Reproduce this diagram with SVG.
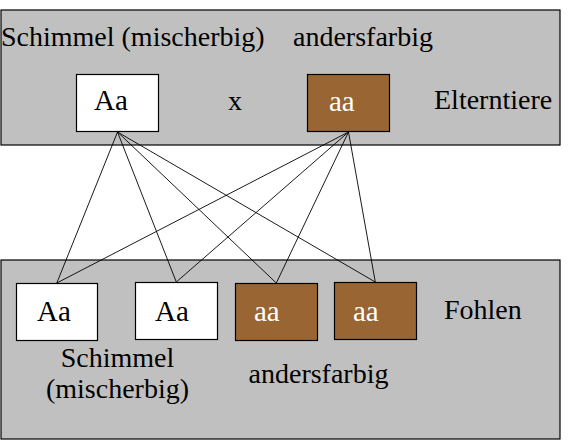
<svg xmlns="http://www.w3.org/2000/svg" width="568" height="446" viewBox="0 0 568 446">
<style>
.panel{fill:#c0c0c0;stroke:#000;stroke-width:1.2}
.wbox{fill:#fff;stroke:#000;stroke-width:1.2}
.bbox{fill:#996633;stroke:#000;stroke-width:1.2}
.wt{fill:#fff}
.conn line{stroke:#000;stroke-width:0.9}
</style>
<g id="panel-top"><rect class="panel" x="1" y="10" width="559" height="135"/></g>
<g id="panel-bottom"><rect class="panel" x="1" y="260" width="559" height="179"/></g>
<g id="connectors" class="conn">
<line x1="117.5" y1="132" x2="56.8" y2="283"/>
<line x1="117.5" y1="132" x2="176.3" y2="282"/>
<line x1="117.5" y1="132" x2="276.3" y2="283"/>
<line x1="117.5" y1="132" x2="375.3" y2="282"/>
<line x1="348.5" y1="132" x2="56.8" y2="283"/>
<line x1="348.5" y1="132" x2="176.3" y2="282"/>
<line x1="348.5" y1="132" x2="276.3" y2="283"/>
<line x1="348.5" y1="132" x2="375.3" y2="282"/>
</g>
<g font-family="Liberation Serif" font-size="28" fill="#000">
<g id="label-schimmel-top"><text x="1" y="46">Schimmel (mischerbig)</text></g>
<g id="label-andersfarbig-top"><text x="293" y="46">andersfarbig</text></g>
<g id="parent-Aa"><rect class="wbox" x="76.5" y="74.5" width="82" height="57"/><text font-size="29" x="94" y="110">Aa</text></g>
<g id="cross"><text x="228" y="110">x</text></g>
<g id="parent-aa"><rect class="bbox" x="307.5" y="74.5" width="82" height="57"/><text class="wt" font-size="29" x="329" y="111">aa</text></g>
<g id="label-elterntiere"><text x="434" y="109">Elterntiere</text></g>
<g id="child-1"><rect class="wbox" x="16.5" y="283.5" width="81" height="57"/><text font-size="29" x="37" y="321">Aa</text></g>
<g id="child-2"><rect class="wbox" x="135.5" y="282.5" width="82" height="57"/><text font-size="29" x="155" y="321">Aa</text></g>
<g id="child-3"><rect class="bbox" x="235.5" y="283.5" width="82" height="57"/><text class="wt" font-size="29" x="254" y="321">aa</text></g>
<g id="child-4"><rect class="bbox" x="334.5" y="282.5" width="82" height="57"/><text class="wt" font-size="29" x="353" y="321">aa</text></g>
<g id="label-fohlen"><text x="444" y="319">Fohlen</text></g>
<g id="label-schimmel-bottom"><text x="117.5" y="367" text-anchor="middle">Schimmel</text><text x="117.5" y="398" text-anchor="middle">(mischerbig)</text></g>
<g id="label-andersfarbig-bottom"><text x="318.5" y="383" text-anchor="middle">andersfarbig</text></g>
</g>
</svg>
